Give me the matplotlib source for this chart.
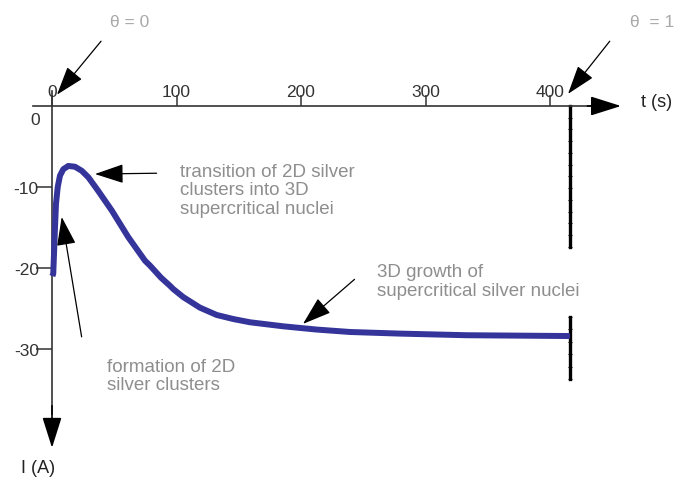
import numpy as np
import matplotlib
matplotlib.use("Agg")
import matplotlib.pyplot as plt

plt.rcParams['font.family'] = ['Liberation Sans', 'DejaVu Sans']

# chronoamperometric transient
time_s = [0.3, 1.0, 1.6, 2.4, 3.2, 4.6, 6.4, 9.1, 13.1, 18.5, 23.9, 29.2,
          37.2, 48.0, 61.3, 74.7, 78.7, 87.6, 94.8, 97.4, 105.5, 118.9,
          132.3, 145.6, 159.0, 185.8, 212.6, 239.4, 279.5, 333, 416]
current_a = [-21.0, -20.7, -18.3, -15.0, -12.1, -10.0, -8.6, -7.8, -7.4,
             -7.5, -8.0, -8.8, -10.5, -12.9, -16.2, -19.1, -19.7, -21.2,
             -22.2, -22.6, -23.6, -24.9, -25.8, -26.3, -26.7, -27.2, -27.6,
             -27.9, -28.1, -28.3, -28.4]

x_ticks = [0, 100, 200, 300, 400]
y_ticks = [-10, -20, -30]
t_full = 416  # theta = 1

notes = [
    ("transition of 2D silver\nclusters into 3D\nsupercritical nuclei", (102.8, -7.0), (84, -8.3), (34.5, -8.4)),
    ("formation of 2D\nsilver clusters", (44.2, -31.1), (23.8, -28.5), (7.8, -13.7)),
    ("3D growth of\nsupercritical silver nuclei", (261, -19.4), (243, -21.4), (201.6, -26.9)),
]
theta_notes = [
    ("θ = 0", (62, 10.4), (39.4, 8.0), (4.0, 1.4)),
    ("θ  = 1", (482, 10.4), (448, 8.0), (414.5, 1.5)),
]

# pixel scale of the reference: 1.245 px per second, 8.1 px per ampere
px_t, px_i = 1.245, 8.1
x0_px, y0_px = 52, 107
W, H = 679, 485

fig = plt.figure(figsize=(W / 100, H / 100), dpi=100)
ax = fig.add_axes([0, 0, 1, 1])
ax.set_xlim(-x0_px / px_t, (W - x0_px) / px_t)
ax.set_ylim((y0_px - H) / px_i, y0_px / px_i)

axis_col = '#333333'
ax.spines['right'].set_visible(False)
ax.spines['bottom'].set_visible(False)
ax.spines['top'].set_position(('data', 0))
ax.spines['left'].set_position(('data', 0))
ax.spines['top'].set_bounds(-15.3, 445)
ax.spines['left'].set_bounds(-38, 1.9)
for s in ('top', 'left'):
    ax.spines[s].set_color(axis_col)
    ax.spines[s].set_linewidth(1.2)

ax.xaxis.tick_top()
ax.set_xticks(x_ticks)
ax.set_xticklabels([str(v) for v in x_ticks])
ax.set_yticks(y_ticks)
ax.set_yticklabels([str(v) for v in y_ticks])
ax.tick_params(axis='x', direction='out', length=8, width=1.1, pad=-3,
               labelsize=12.5, colors=axis_col)
ax.tick_params(axis='y', direction='out', length=11.5, width=1.1, pad=-2,
               labelsize=12.5, colors=axis_col)
ax.text(-13.5, -1.7, "0", ha='center', va='center', fontsize=12.5, color=axis_col)

# axis arrowheads
head = dict(arrowstyle='-|>,head_length=1.9,head_width=0.6', color='black',
            lw=1.2, shrinkA=0, shrinkB=0)
ax.annotate('', xy=(457, 0), xytext=(430, 0), arrowprops=head)
ax.annotate('', xy=(0, -42.2), xytext=(0, -37), arrowprops=head)
ax.text(473, 0.5, "t (s)", ha='left', va='center', fontsize=13, color='#222222')
ax.text(-11, -44.6, "I (A)", ha='center', va='center', fontsize=13, color='#222222')

# theta = 1 marker line, broken behind the label
marker_kw = dict(color='black', lw=2.4, marker='_', ms=3, mew=0.8)
for lo, hi in [(0, -17.4), (-26.05, -33.7)]:
    seg = np.linspace(lo, hi, int(abs(hi - lo) / 1.4) + 1)
    ax.plot(np.full_like(seg, t_full), seg, **marker_kw)

ax.plot(time_s, current_a, color='#34349a', lw=4.3, solid_joinstyle='round',
        solid_capstyle='butt', zorder=3)

note_arrow = dict(arrowstyle='-|>,head_length=1.8,head_width=0.6', color='black',
                  lw=0.9, shrinkA=0, shrinkB=0)
for label, txt_xy, start, tip in notes:
    ax.text(*txt_xy, label, ha='left', va='top', fontsize=13.5, color='#8e8e8e',
            linespacing=1.12)
    ax.annotate('', xy=tip, xytext=start, arrowprops=note_arrow)

for label, txt_xy, start, tip in theta_notes:
    ax.text(*txt_xy, label, ha='center', va='center', fontsize=12.5, color='#a8a8a8')
    ax.annotate('', xy=tip, xytext=start, arrowprops=note_arrow)

fig.savefig("out.png", dpi=100)
